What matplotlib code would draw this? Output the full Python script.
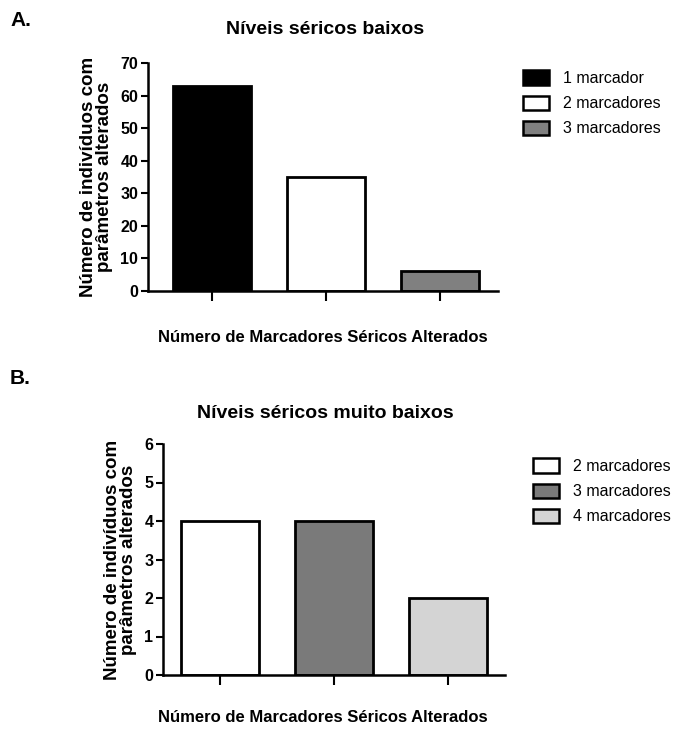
import matplotlib
matplotlib.use("Agg")
import matplotlib.pyplot as plt
from matplotlib.patches import Patch

plt.rcParams['font.family'] = ['Liberation Sans Narrow', 'Liberation Sans', 'DejaVu Sans']

# data
labels_a = ['1 marcador', '2 marcadores', '3 marcadores']
values_a = [63, 35, 6]
colors_a = ['#000000', '#ffffff', '#808080']

labels_b = ['2 marcadores', '3 marcadores', '4 marcadores']
values_b = [4, 4, 2]
colors_b = ['#ffffff', '#7a7a7a', '#d4d4d4']

ylabel = 'Número de indivíduos com\nparâmetros alterados'
xlabel = 'Número de Marcadores Séricos Alterados'

W, H = 684, 731
fig = plt.figure(figsize=(W / 100, H / 100), dpi=100)


def draw_panel(rect, values, colors, labels, ymax, yticks, xlim, title, title_y,
               xlabel_y, leg_pos):
    ax = fig.add_axes(rect)
    x = range(len(values))
    ax.bar(x, values, width=0.68, color=colors, edgecolor='black', linewidth=2)
    ax.set_xlim(*xlim)
    ax.set_ylim(0, ymax)
    ax.set_yticks(yticks)
    ax.set_xticks(list(x))
    ax.set_xticklabels([])
    for s in ['top', 'right']:
        ax.spines[s].set_visible(False)
    for s in ['left', 'bottom']:
        ax.spines[s].set_linewidth(1.8)
    ax.tick_params(axis='y', length=5, width=1.5, labelsize=11.5, pad=2)
    ax.tick_params(axis='x', length=7, width=1.5)
    for t in ax.get_yticklabels():
        t.set_fontweight('bold')
    ax.set_ylabel(ylabel, fontsize=13.5, fontweight='bold', labelpad=5, linespacing=0.95)
    fig.text(325 / W, 1 - title_y / H, title, fontsize=14, fontweight='bold',
             ha='center', va='center')
    fig.text(323 / W, 1 - xlabel_y / H, xlabel, fontsize=12, fontweight='bold',
             ha='center', va='center')
    handles = [Patch(facecolor=c, edgecolor='black', linewidth=1.8) for c in colors]
    fig.legend(handles, labels, loc='upper left', bbox_to_anchor=leg_pos,
               frameon=False, fontsize=11.5, handlelength=1.6, handleheight=1.0,
               labelspacing=0.6, handletextpad=0.9, borderaxespad=0)
    return ax


draw_panel([148 / W, 1 - 291 / H, 350 / W, 228 / H],
           values_a, colors_a, labels_a, 70, range(0, 71, 10), (-0.56, 2.51),
           'Níveis séricos baixos', 29, 337, (517 / W, 1 - 64 / H))

draw_panel([163 / W, 1 - 675 / H, 342 / W, 231 / H],
           values_b, colors_b, labels_b, 6, range(0, 7), (-0.5, 2.5),
           'Níveis séricos muito baixos', 413, 718, (527 / W, 1 - 452 / H))

fig.text(10 / W, 1 - 20 / H, 'A.', fontsize=15, fontweight='bold', va='center')
fig.text(10 / W, 1 - 378 / H, 'B.', fontsize=15, fontweight='bold', va='center')

fig.savefig('out.png', dpi=100)
